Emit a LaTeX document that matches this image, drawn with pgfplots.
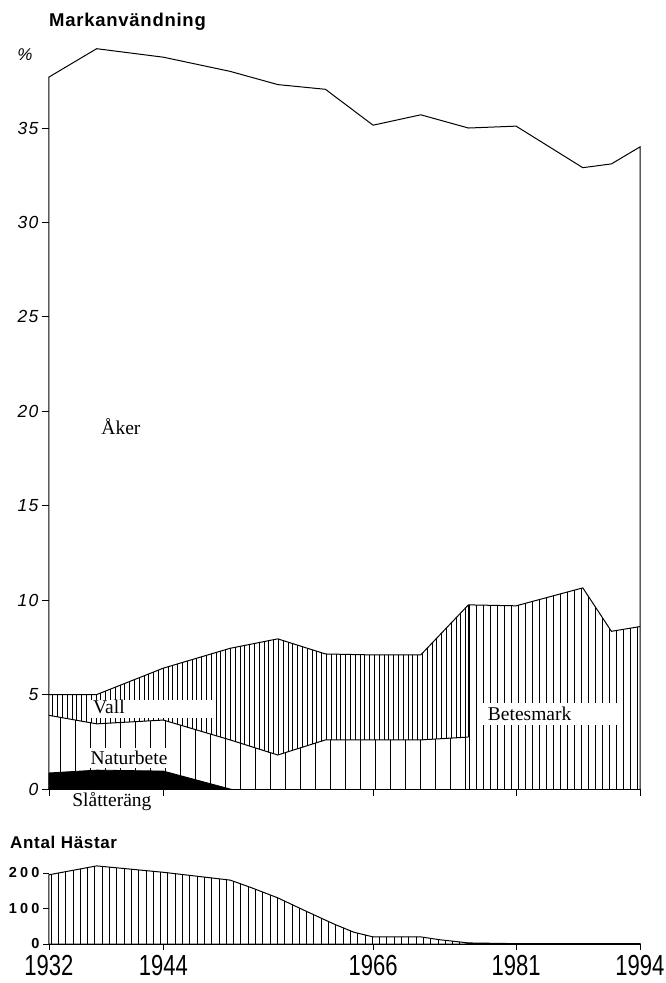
\documentclass[border=0pt]{standalone}
\usepackage{fontspec}
\setmainfont{Liberation Sans}
\newfontfamily\serifl{Liberation Serif}
\newfontfamily\tickit{Liberation Sans}[LetterSpace=8]
\newfontfamily\yearfont{Liberation Sans}[FakeStretch=0.76]
\newfontfamily\spaced{Liberation Sans}[LetterSpace=4]
\newfontfamily\hspaced{Liberation Sans}[LetterSpace=22]
\usepackage{pgfplots}
\pgfplotsset{compat=1.18}
\usetikzlibrary{patterns.meta}
\begin{document}
\begin{tikzpicture}
\useasboundingbox (-49pt,-194pt) rectangle (617pt,789pt);
% ---------------- top panel ----------------
\begin{axis}[
  at={(0,0)}, anchor=south west,
  scale only axis, width=591pt, height=755.4pt,
  xmin=1932, xmax=1994, ymin=0, ymax=40,
  axis x line=bottom, axis y line=left,
  y axis line style={draw=none},
  x axis line style={-, line width=1pt},
  xtick={1932,1944,1966,1981,1994}, xticklabels={},
  ytick={0,5,...,35},
  tick align=outside, major tick length=7pt,
  tick style={black, line width=0.9pt},
  yticklabel style={font=\tickit\itshape\fontsize{17.5}{17.5}\selectfont},
  /pgf/number format/assume math mode=true,
  clip=false,
]
% Vall (between Naturbete top and Vall top)
\addplot[draw=none, pattern={Lines[angle=90,distance=4.8pt,line width=0.8pt]}] coordinates {
 (1932,3.9) (1937,3.45) (1944,3.65) (1951,2.6) (1956,1.8) (1961,2.6) (1966,2.6) (1971,2.6) (1976,2.75)
 (1976,9.75) (1971,7.1) (1966,7.1) (1961,7.15) (1956,7.95) (1951,7.45) (1944,6.4) (1937,5.0) (1932,5.0)} -- cycle;
% Naturbete
\addplot[draw=none, pattern={Lines[angle=90,distance=15pt,line width=1pt]}] coordinates {
 (1932,0) (1932,3.9) (1937,3.45) (1944,3.65) (1951,2.6) (1956,1.8) (1961,2.6) (1966,2.6) (1971,2.6) (1976,2.75) (1976,0)} -- cycle;
% Betesmark
\addplot[draw=none, pattern={Lines[angle=90,distance=7pt,line width=1pt]}] coordinates {
 (1976,0) (1976,9.75) (1981,9.7) (1988,10.65) (1991,8.35) (1994,8.6) (1994,0)} -- cycle;
% Slatterang
\addplot[fill=black, draw=black, line width=0.8pt] coordinates {
 (1932,0) (1932,0.85) (1937,1.0) (1944,0.95) (1951,0)} -- cycle;
% boundary lines
\addplot[black, line width=1pt] coordinates {
 (1932,3.9) (1937,3.45) (1944,3.65) (1951,2.6) (1956,1.8) (1961,2.6) (1966,2.6) (1971,2.6) (1976,2.75)};
\addplot[black, line width=1pt] coordinates {
 (1932,5.0) (1937,5.0) (1944,6.4) (1951,7.45) (1956,7.95) (1961,7.15) (1966,7.1) (1971,7.1) (1976,9.75) (1981,9.7) (1988,10.65) (1991,8.35) (1994,8.6)};
\addplot[black, line width=1.2pt] coordinates {(1976,2.75) (1976,9.75)};
% Aker outline
\addplot[black, line width=1pt] coordinates {
 (1932,0) (1932,37.7) (1937,39.2) (1944,38.75) (1951,38.0) (1956,37.3) (1961,37.05) (1966,35.15) (1971,35.7) (1976,35.0) (1981,35.1) (1988,32.9) (1991,33.1) (1994,34.0) (1994,0)};
% label boxes
\node[fill=white, inner sep=0, minimum width=125pt, minimum height=18pt] at (axis cs:1942.86,4.24) {};
\node[fill=white, inner sep=0, minimum width=86pt, minimum height=20pt] at (axis cs:1940.39,1.64) {};
\node[fill=white, inner sep=0, minimum width=136pt, minimum height=22pt] at (axis cs:1984.56,3.97) {};
\node[anchor=west, inner sep=0, font=\serifl\fontsize{19.5}{19.5}\selectfont] at (axis cs:1936.62,4.34) {Vall};
\node[inner sep=0, font=\serifl\fontsize{19.5}{19.5}\selectfont] at (axis cs:1940.39,1.64) {Naturbete};
\node[inner sep=0, font=\serifl\fontsize{19.5}{19.5}\selectfont] at (axis cs:1982.42,3.97) {Betesmark};
\node[inner sep=0, font=\serifl\fontsize{19.5}{19.5}\selectfont] at (axis cs:1938.6,-0.64) {Slåtteräng};
\node[inner sep=0, font=\serifl\fontsize{19.5}{19.5}\selectfont] at (axis cs:1939.55,19.17) {Åker};
\node[inner sep=0, font=\tickit\itshape\fontsize{17}{17}\selectfont, xshift=-24pt] at (axis cs:1932,38.87) {\%};
\node[anchor=base west, inner sep=0, font=\spaced\bfseries\fontsize{18.5}{18.5}\selectfont] at (axis cs:1932,40.4) {Markanvändning};
\end{axis}
% ---------------- bottom panel ----------------
\begin{axis}[
  at={(0,-155pt)}, anchor=south west,
  scale only axis, width=591pt, height=78.1pt,
  xmin=1932, xmax=1994, ymin=0, ymax=220,
  axis x line=bottom, axis y line=left,
  y axis line style={draw=none},
  x axis line style={-, line width=1pt},
  xtick={1932,1944,1966,1981,1994},
  xticklabels={1932,1944,1966,1981,1994},
  ytick={0,100,200},
  tick align=outside, major tick length=6pt,
  tick style={black, line width=0.9pt},
  xticklabel style={font=\yearfont\fontsize{29}{29}\selectfont, yshift=-2pt},
  yticklabel style={font=\hspaced\bfseries\fontsize{14.5}{14.5}\selectfont},
  /pgf/number format/assume math mode=true,
  clip=false,
]
\addplot[draw=black, line width=1pt, pattern={Lines[angle=90,distance=7.3pt,line width=0.9pt]}] coordinates {
 (1932,0) (1932,195) (1937,220) (1944,202) (1951,180) (1953,161) (1956,130) (1959,92) (1962,55) (1964,33) (1966,20) (1971,20) (1973,12) (1976,3) (1981,1) (1994,1) (1994,0)} -- cycle;
\node[anchor=base west, inner sep=0, font=\spaced\bfseries\fontsize{17}{17}\selectfont, xshift=-39pt] at (axis cs:1932,270.4) {Antal Hästar};
\end{axis}
\end{tikzpicture}
\end{document}
